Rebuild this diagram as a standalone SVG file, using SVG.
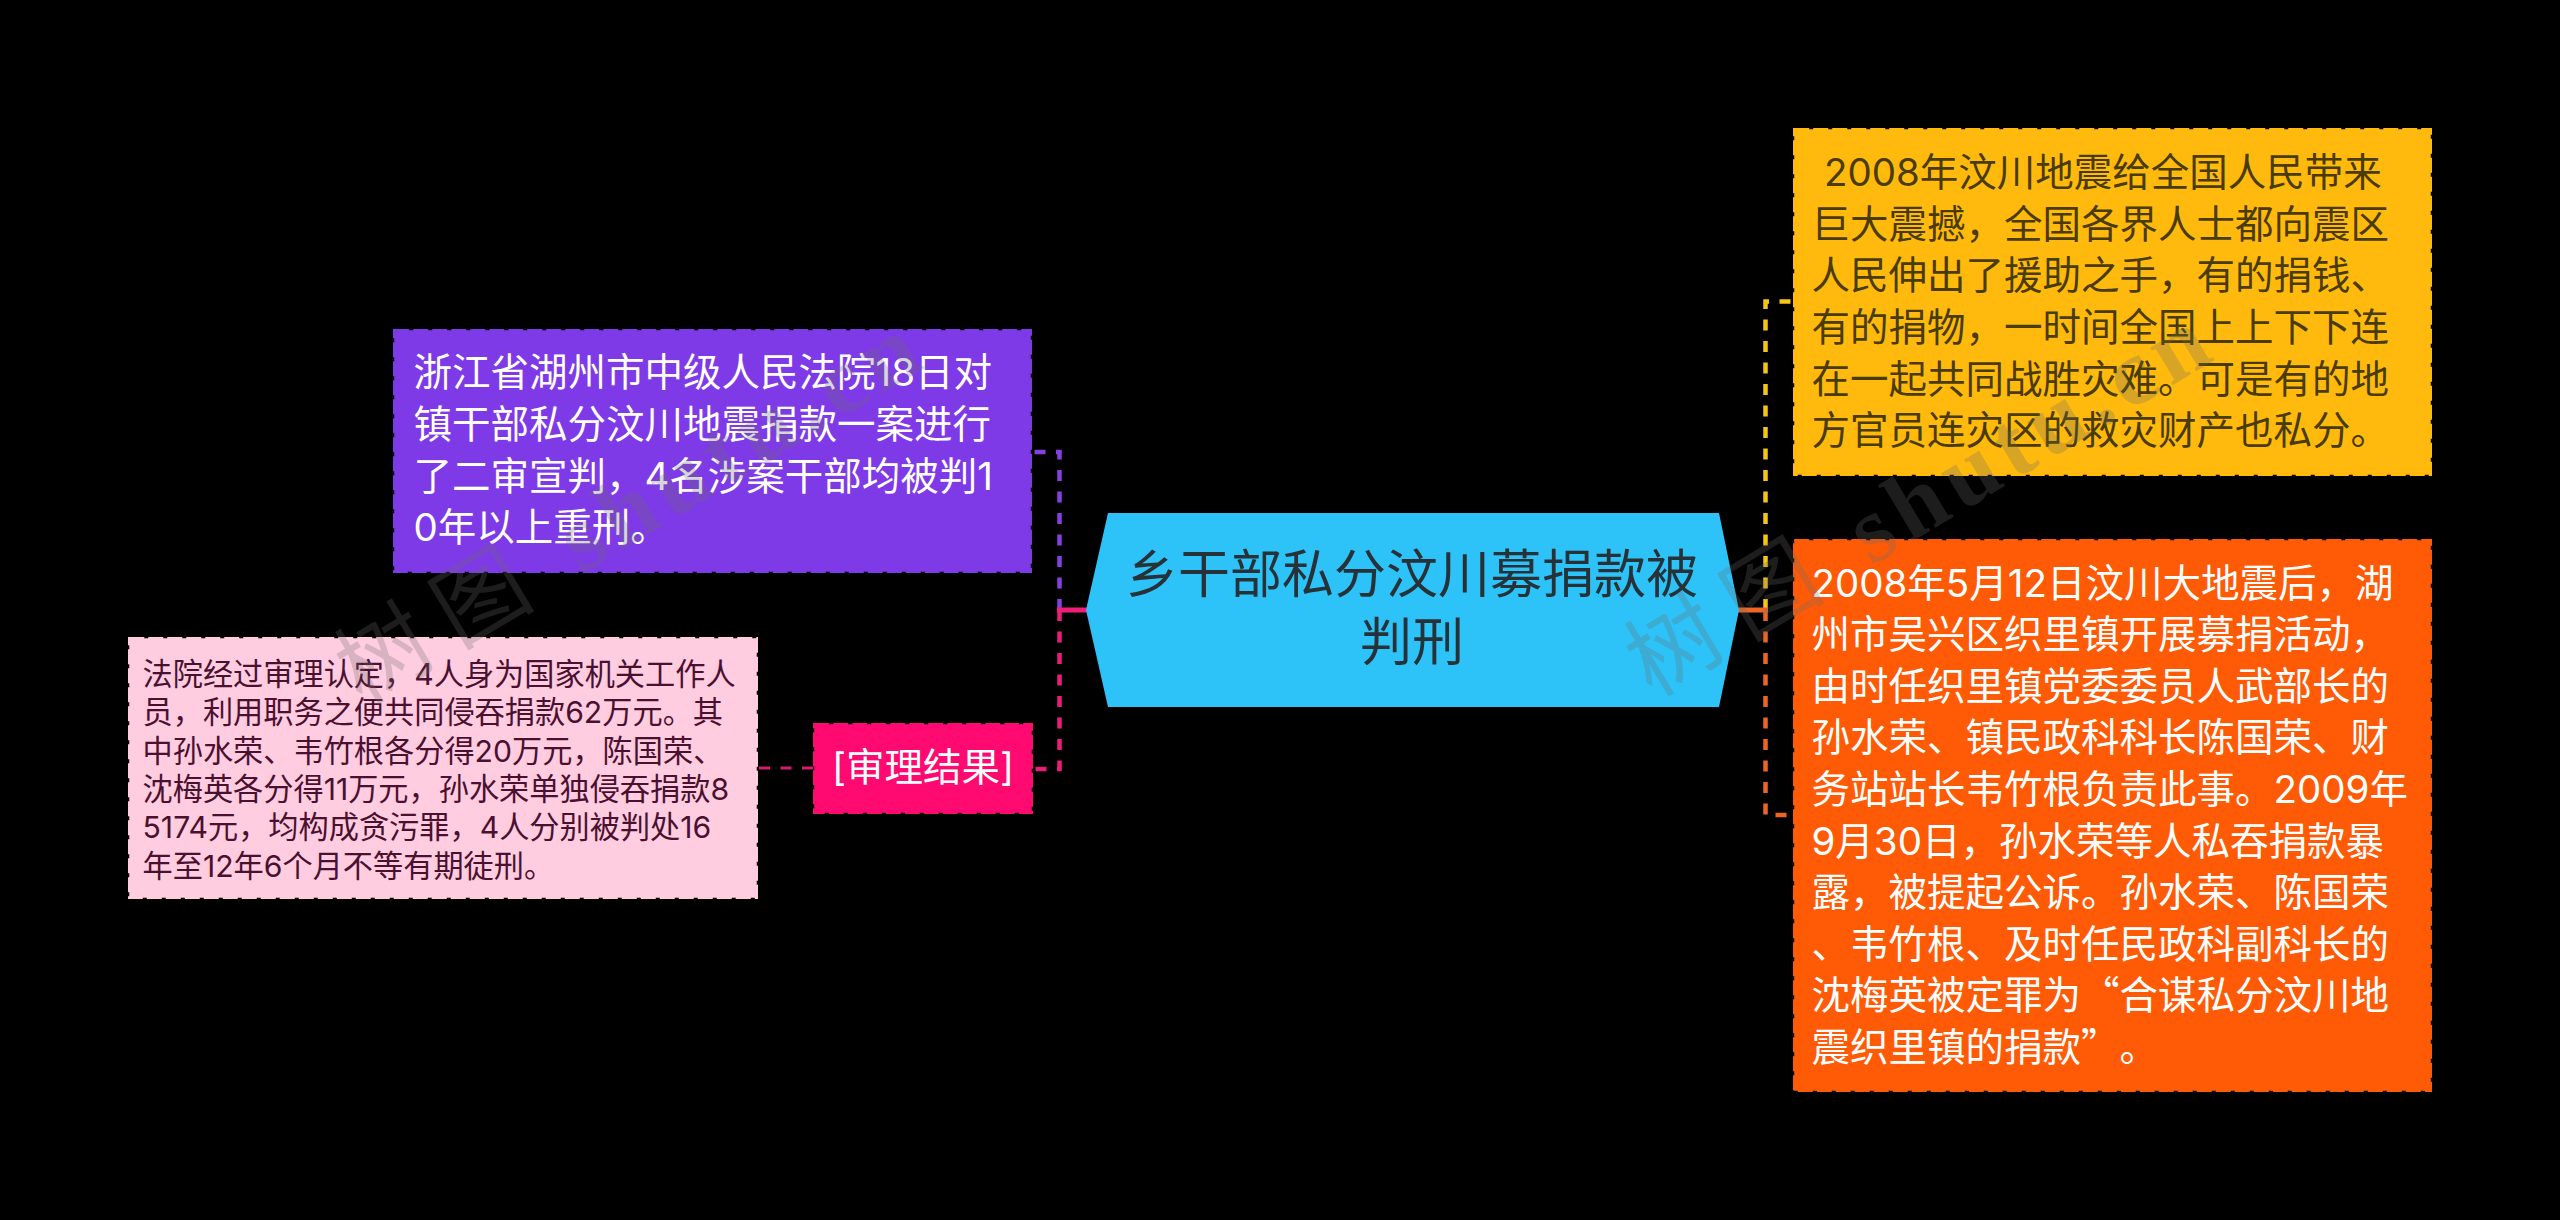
<svg xmlns="http://www.w3.org/2000/svg" width="2560" height="1220" viewBox="0 0 2560 1220">
<style>
text{font-family:"Inter","Noto Sans CJK SC",sans-serif;text-spacing-trim:space-all}
.q{font-family:"Noto Sans CJK SC",sans-serif}
.box{stroke-width:2.5;stroke-dasharray:15 4}
.t38{font-size:38.5px}
.t30{font-size:30.2px}
.con{fill:none;stroke-width:4.5;stroke-dasharray:11 10.5}
.stub{fill:none;stroke-width:5}
.wm{font-family:"Liberation Serif","Noto Sans CJK SC",serif;fill:#6b6b6b;fill-opacity:.27}
.wc{font-size:92px;letter-spacing:20px}
.wl{font-size:95px;letter-spacing:8px;font-weight:700}
</style>
<rect width="2560" height="1220" fill="#000"/>
<g id="connectors">
<path class="con" stroke="#8540E0" d="M1059.5 610V452H1033"/>
<path class="con" stroke="#E91E7A" d="M1059.5 610V769H1033"/>
<path class="con" stroke="#F5C518" d="M1765.5 610V301.5H1793"/>
<path class="con" stroke="#EE6520" d="M1765.5 610V815H1793"/>
<path class="stub" stroke="#F01E78" d="M1057 610H1088"/>
<path class="stub" stroke="#F26522" d="M1738 610H1768"/>
<path fill="none" stroke="#D81B70" stroke-width="3" stroke-dasharray="11 10.5" d="M813 768H758"/>
</g>
<g id="root">
<polygon points="1108,513 1719,513 1739,610 1719,707 1108,707 1086,610" fill="#2DC3F8"/>
<g font-size="52" fill="#263238" text-anchor="middle">
<text x="1412" y="593">乡干部私分汶川募捐款被</text>
<text x="1412" y="661">判刑</text>
</g>
</g>
<g id="node-left-top">
<rect class="box" x="394.25" y="330.25" width="636.5" height="241.5" fill="#7F3AE8" stroke="#7F3AE8"/>
<g class="t38" fill="#fff">
<text x="413.5" y="386">浙江省湖州市中级人民法院18日对</text>
<text x="413.5" y="438">镇干部私分汶川地震捐款一案进行</text>
<text x="413.5" y="490">了二审宣判，4名涉案干部均被判1</text>
<text x="413.5" y="541">0年以上重刑。</text>
</g>
</g>
<g id="node-result">
<rect class="box" x="814.25" y="724.25" width="217.5" height="88.5" fill="#FF0A70" stroke="#FF0A70"/>
<text class="t38" x="923" y="781" fill="#fff" text-anchor="middle">[审理结果]</text>
</g>
<g id="node-result-detail">
<rect class="box" x="129.25" y="638.25" width="627.5" height="259.5" fill="#FFCCE0" stroke="#FFCCE0"/>
<g class="t30" fill="#4A1030">
<text x="142.5" y="685">法院经过审理认定，4人身为国家机关工作人</text>
<text x="142.5" y="723">员，利用职务之便共同侵吞捐款62万元。其</text>
<text x="142.5" y="762">中孙水荣、韦竹根各分得20万元，陈国荣、</text>
<text x="142.5" y="800">沈梅英各分得11万元，孙水荣单独侵吞捐款8</text>
<text x="142.5" y="838">5174元，均构成贪污罪，4人分别被判处16</text>
<text x="142.5" y="877">年至12年6个月不等有期徒刑。</text>
</g>
</g>
<g id="node-right-top">
<rect class="box" x="1794.25" y="129.25" width="636.5" height="345.5" fill="#FFBA0D" stroke="#FFBA0D"/>
<g class="t38" fill="#4A3B00">
<text x="1824" y="186">2008年汶川地震给全国人民带来</text>
<text x="1811.5" y="238">巨大震撼，全国各界人士都向震区</text>
<text x="1811.5" y="289">人民伸出了援助之手，有的捐钱、</text>
<text x="1811.5" y="341">有的捐物，一时间全国上上下下连</text>
<text x="1811.5" y="393">在一起共同战胜灾难。可是有的地</text>
<text x="1811.5" y="444">方官员连灾区的救灾财产也私分。</text>
</g>
</g>
<g id="node-right-bottom">
<rect class="box" x="1794.25" y="540.25" width="636.5" height="550.5" fill="#FF5B07" stroke="#FF5B07"/>
<g class="t38" fill="#fff">
<text x="1811.5" y="597">2008年5月12日汶川大地震后，湖</text>
<text x="1811.5" y="648">州市吴兴区织里镇开展募捐活动，</text>
<text x="1811.5" y="700">由时任织里镇党委委员人武部长的</text>
<text x="1811.5" y="751">孙水荣、镇民政科科长陈国荣、财</text>
<text x="1811.5" y="803">务站站长韦竹根负责此事。2009年</text>
<text x="1811.5" y="855">9月30日，孙水荣等人私吞捐款暴</text>
<text x="1811.5" y="906">露，被提起公诉。孙水荣、陈国荣</text>
<text x="1811.5" y="958">、韦竹根、及时任民政科副科长的</text>
<text x="1811.5" y="1009">沈梅英被定罪为<tspan class="q">“</tspan>合谋私分汶川地</text>
<text x="1811.5" y="1061">震织里镇的捐款<tspan class="q">”</tspan><tspan class="q" x="2119.5">。</tspan></text>
</g>
</g>
<g id="watermark">
<text class="wm" transform="translate(362 706) rotate(-31)"><tspan class="wc">树图</tspan><tspan class="wl"> shutu.cn</tspan></text>
<text class="wm" transform="translate(1652 698) rotate(-31)"><tspan class="wc">树图</tspan><tspan class="wl"> shutu.cn</tspan></text>
</g>
</svg>
